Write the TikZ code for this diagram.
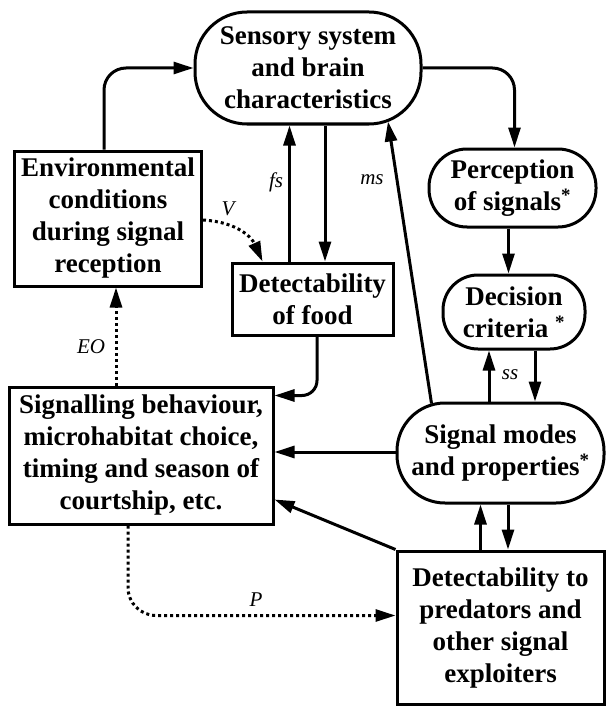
\documentclass[tikz,border=0pt]{standalone}
\usepackage{fontspec}
\setmainfont{Liberation Serif}
\usetikzlibrary{arrows.meta,calc}
\begin{document}
\begin{tikzpicture}[x=1pt,y=-1pt,
  every node/.style={inner sep=0pt},
  box/.style={draw, line width=3pt, align=center, font=\bfseries\fontsize{27}{32}\selectfont},
  lab/.style={font=\itshape\fontsize{21}{21}\selectfont},
  arr/.style={line width=3pt, -{Triangle[length=20pt,width=12pt]}},
  dotarr/.style={line width=3pt, dash pattern=on 3pt off 3pt, -{Triangle[length=20pt,width=12pt]}}
]
\fill[white] (0,0) rectangle (606,706);
\useasboundingbox (0,0) rectangle (606,706);

\node[box, rounded corners=52pt, minimum width=226pt, minimum height=112pt] (sens) at (308,68) {Sensory system\\and brain\\characteristics};
\node[box, rounded corners=38pt, minimum width=167pt, minimum height=78pt] (perc) at (512.5,188) {Perception\\of signals\textsuperscript{*}};
\node[box, rounded corners=35pt, minimum width=142pt, minimum height=74pt] (dec) at (514,312) {Decision\\criteria~\textsuperscript{*}};
\node[box, minimum width=187pt, minimum height=135pt] (env) at (108,218.5) {Environmental\\conditions\\during signal\\reception};
\node[box, minimum width=161pt, minimum height=72pt] (food) at (312.5,299) {Detectability\\of food};
\node[box, minimum width=264pt, minimum height=137pt] (sig) at (141,455.5) {Signalling behaviour,\\microhabitat choice,\\timing and season of\\courtship, etc.};
\node[box, rounded corners=48pt, minimum width=207pt, minimum height=100pt] (modes) at (500.5,453) {Signal modes\\and properties\textsuperscript{*}};
\node[box, minimum width=207pt, minimum height=153pt] (pred) at (500.5,627.5) {Detectability to\\predators and\\other signal\\exploiters};

% connectors
\draw[arr, rounded corners=22pt] ([xshift=-4pt]env.north) |- (sens.west);
\draw[arr, rounded corners=22pt] (sens.east) -| ([xshift=2pt]perc.north);
\draw[arr] ([xshift=-4pt]perc.south) -- ([xshift=-4pt]perc.south |- dec.north);
\draw[arr] ([xshift=-23pt]food.north) -- ([xshift=-23pt]food.north |- sens.south);
\draw[arr] ([xshift=12.5pt]food.north |- sens.south) -- ([xshift=12.5pt]food.north);
\draw[arr] ($(modes.north west)+(36,2)$) -- ($(sens.south)+(80,-4)$);
\draw[arr] ([xshift=-25pt]dec.south |- modes.north) -- ([xshift=-25pt]dec.south);
\draw[arr] ([xshift=21pt]dec.south) -- ([xshift=21pt]dec.south |- modes.north);
\draw[arr] ([yshift=1pt]modes.west) -- ([yshift=1pt]modes.west -| sig.east);
\draw[arr, rounded corners=15pt] ([xshift=4.5pt]food.south) |- ([yshift=-10pt]sig.north east);
\draw[arr] (pred.north west) -- ([yshift=26pt]sig.south east);
\draw[arr] ([xshift=-20pt]modes.south |- pred.north) -- ([xshift=-20pt]modes.south);
\draw[arr] ([xshift=7.5pt]modes.south) -- ([xshift=7.5pt]modes.south |- pred.north);
\draw[dotarr] ([xshift=-25pt]sig.north) -- ([xshift=-25pt]sig.north |- env.south);
\draw[dotarr] ([yshift=-1.5pt]env.east) .. controls (238,222) and (252,238) .. ([xshift=-50pt]food.north);
\draw[dotarr, rounded corners=28pt] ([xshift=-13pt]sig.south) |- ([yshift=12pt]pred.west);

% labels
\node[lab] (lfs) at (276,182) {fs};
\node[lab] (lms) at (372,180) {ms};
\node[lab] (lss) at (510,375) {ss};
\node[lab] (leo) at (91,347) {EO};
\node[lab] (lv) at (228,209) {V};
\node[lab] (lp) at (256,600) {P};
\end{tikzpicture}
\end{document}
